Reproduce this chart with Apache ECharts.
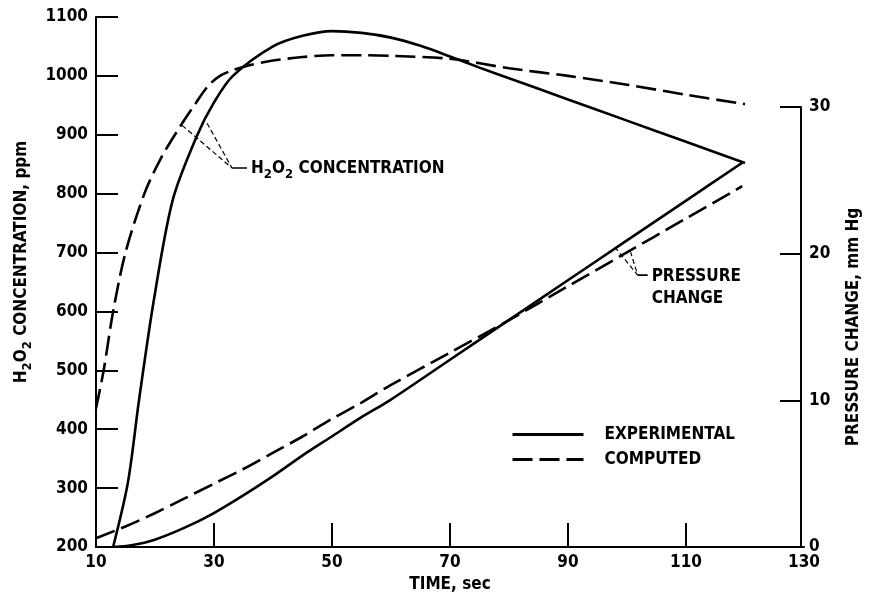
<!DOCTYPE html>
<html>
<head>
<meta charset="utf-8">
<script src="https://cdn.jsdelivr.net/npm/echarts@6/dist/echarts.min.js"></script>
<style>
  html, body { margin: 0; padding: 0; background: #fff; }
  #chart { width: 870px; height: 600px; }
</style>
</head>
<body>
<div id="chart"></div>
<script>
// H2O2 concentration, ppm (left axis)
const h2o2ExpTime = [12.9, 15.4, 17.3, 19.8, 23, 27.1, 30, 33.2, 40, 45, 50, 55, 60, 65, 70, 75, 80, 90, 100, 110, 120];
const h2o2ExpPpm  = [200, 309, 450, 619, 789, 898, 955, 1000, 1050, 1068, 1076, 1073, 1065, 1051, 1033, 1014, 996, 960, 924, 888, 852];
const h2o2CompTime = [10, 11.3, 12.9, 15, 18.2, 21, 24.2, 27, 29, 31, 33, 36, 40, 45, 50, 55, 60, 70, 80, 90, 100, 110, 120];
const h2o2CompPpm  = [435, 500, 600, 700, 800, 860, 913, 955, 983, 1000, 1009, 1018, 1026, 1032, 1035, 1035, 1034, 1029, 1013, 1000, 985, 968, 952];

// pressure change, mm Hg (right axis)
const presExpTime = [13, 16, 20, 25, 30, 35, 40, 45, 50, 55, 60, 70, 80, 90, 100, 110, 120];
const presExpMm   = [0, 0.12, 0.5, 1.3, 2.3, 3.5, 4.8, 6.2, 7.5, 8.8, 10.0, 12.7, 15.4, 18.1, 20.8, 23.5, 26.2];
const presCompTime = [10, 15, 20, 25, 30, 35, 40, 45, 50, 55, 60, 70, 80, 90, 100, 110, 120];
const presCompMm   = [0.6, 1.4, 2.3, 3.3, 4.3, 5.3, 6.4, 7.5, 8.7, 9.8, 11.0, 13.2, 15.4, 17.7, 20.0, 22.3, 24.6];

// leader lines of the two callouts (data coordinates)
const h2o2LeadX = [24.6, 33.05, 28.8];
const h2o2LeadY = [916, 843.5, 920];
const h2o2StubX = [33.05, 35.6];
const h2o2StubY = [843.5, 843.5];
const presLeadX = [98.3, 102.2, 101.0];
const presLeadY = [20.45, 18.54, 20.1];
const presStubX = [102.2, 103.9];
const presStubY = [18.54, 18.54];

const timeTicks = [10, 30, 50, 70, 90, 110, 130];
const timeTickMarks = [30, 50, 70, 90, 110];

const zip = (xs, ys) => xs.map((x, i) => [x, ys[i]]);

const FONT = 'DejaVu Sans Condensed';
const INK = '#000';
const DASH = [20, 7];

const chart = echarts.init(document.getElementById('chart'), null, {renderer: 'canvas'});

const axisText = {fontFamily: FONT, fontSize: 17, fontWeight: 'bold', color: INK};
const subRich = {
    a: {fontFamily: FONT, fontSize: 17, fontWeight: 'bold', color: INK, lineHeight: 24},
    b: {fontFamily: FONT, fontSize: 13, fontWeight: 'bold', color: INK, lineHeight: 12, verticalAlign: 'bottom'}
};

function curve(name, data, xi, dashed) {
    return {
        name: name,
        type: 'line',
        xAxisIndex: xi,
        yAxisIndex: xi,
        data: data,
        smooth: 0.3,
        symbol: 'none',
        lineStyle: {color: '#000', width: 2.6, type: dashed ? DASH : 'solid'},
        itemStyle: {color: '#000'},
        z: 3
    };
}

function leader(data, xi, dashed) {
    return {
        type: 'line',
        xAxisIndex: xi,
        yAxisIndex: xi,
        data: data,
        symbol: 'none',
        silent: true,
        lineStyle: {color: '#000', width: dashed ? 1.2 : 1.6, type: dashed ? [5, 3] : 'solid'},
        z: 2
    };
}

function note(point, xi, text, offsetY) {
    return {
        type: 'scatter',
        xAxisIndex: xi,
        yAxisIndex: xi,
        data: [point],
        symbolSize: 0,
        silent: true,
        itemStyle: {opacity: 1},
        label: {
            show: true,
            position: 'right',
            distance: 4,
            offset: [0, offsetY],
            formatter: text,
            fontFamily: FONT,
            fontSize: 17,
            fontWeight: 'bold',
            color: INK,
            opacity: 1,
            lineHeight: 22,
            rich: subRich
        }
    };
}

const tickLabel = {fontFamily: FONT, fontSize: 17, fontWeight: 'bold', color: INK};

chart.setOption({
    animation: false,
    backgroundColor: '#fff',
    grid: [
        {left: 96, right: 66, top: 17, bottom: 53},
        {left: 96, right: 66, top: 107, bottom: 53}
    ],
    legend: {
        data: ['EXPERIMENTAL', 'COMPUTED'],
        orient: 'vertical',
        left: 506,
        top: 421,
        itemWidth: 71,
        itemHeight: 12,
        itemGap: 8,
        itemStyle: {opacity: 0},
        lineStyle: {width: 3},
        textStyle: {fontFamily: FONT, fontSize: 17, fontWeight: 'bold', color: INK, padding: [0, 0, 0, 16]}
    },
    xAxis: [
        {
            gridIndex: 0,
            type: 'value',
            min: 10,
            max: 130,
            interval: 20,
            name: 'TIME, sec',
            nameLocation: 'middle',
            nameGap: 29,
            nameTextStyle: axisText,
            axisLine: {lineStyle: {color: '#000', width: 2}},
            axisTick: {inside: true, length: 24, customValues: timeTickMarks, lineStyle: {color: '#000', width: 2}},
            axisLabel: Object.assign({
                margin: 7,
                formatter: v => timeTicks.includes(v) ? String(v) : ''
            }, tickLabel),
            splitLine: {show: false}
        },
        {
            gridIndex: 1,
            type: 'value',
            min: 10,
            max: 130,
            show: false
        }
    ],
    yAxis: [
        {
            gridIndex: 0,
            type: 'value',
            min: 200,
            max: 1100,
            interval: 100,
            name: '{a|H}{b|2}{a|O}{b|2}{a| CONCENTRATION, ppm}',
            nameLocation: 'middle',
            nameGap: 62,
            nameRotate: 90,
            nameTextStyle: {rich: subRich, padding: [0, 0, 0, 40]},
            axisLine: {show: true, lineStyle: {color: '#000', width: 2}},
            axisTick: {show: true, inside: true, length: 22, lineStyle: {color: '#000', width: 2}},
            axisLabel: Object.assign({margin: 8, formatter: v => String(v)}, tickLabel),
            splitLine: {show: false}
        },
        {
            gridIndex: 1,
            type: 'value',
            position: 'right',
            min: 0,
            max: 30,
            interval: 10,
            name: 'PRESSURE CHANGE, mm Hg',
            nameLocation: 'middle',
            nameGap: 44,
            nameRotate: 90,
            nameTextStyle: axisText,
            axisLine: {show: true, lineStyle: {color: '#000', width: 2}},
            axisTick: {show: true, inside: true, length: 21, lineStyle: {color: '#000', width: 2}},
            axisLabel: Object.assign({margin: 8}, tickLabel),
            splitLine: {show: false}
        }
    ],
    series: [
        curve('EXPERIMENTAL', zip(h2o2ExpTime, h2o2ExpPpm), 0, false),
        curve('COMPUTED', zip(h2o2CompTime, h2o2CompPpm), 0, true),
        curve('EXPERIMENTAL', zip(presExpTime, presExpMm), 1, false),
        curve('COMPUTED', zip(presCompTime, presCompMm), 1, true),
        leader(zip(h2o2LeadX, h2o2LeadY), 0, true),
        leader(zip(h2o2StubX, h2o2StubY), 0, false),
        leader(zip(presLeadX, presLeadY), 1, true),
        leader(zip(presStubX, presStubY), 1, false),
        note([h2o2StubX[1], h2o2StubY[1]], 0, '{a|H}{b|2}{a|O}{b|2}{a| CONCENTRATION}', 1),
        note([presStubX[1], presStubY[1]], 1, 'PRESSURE\nCHANGE', 12)
    ]
});
</script>
</body>
</html>
